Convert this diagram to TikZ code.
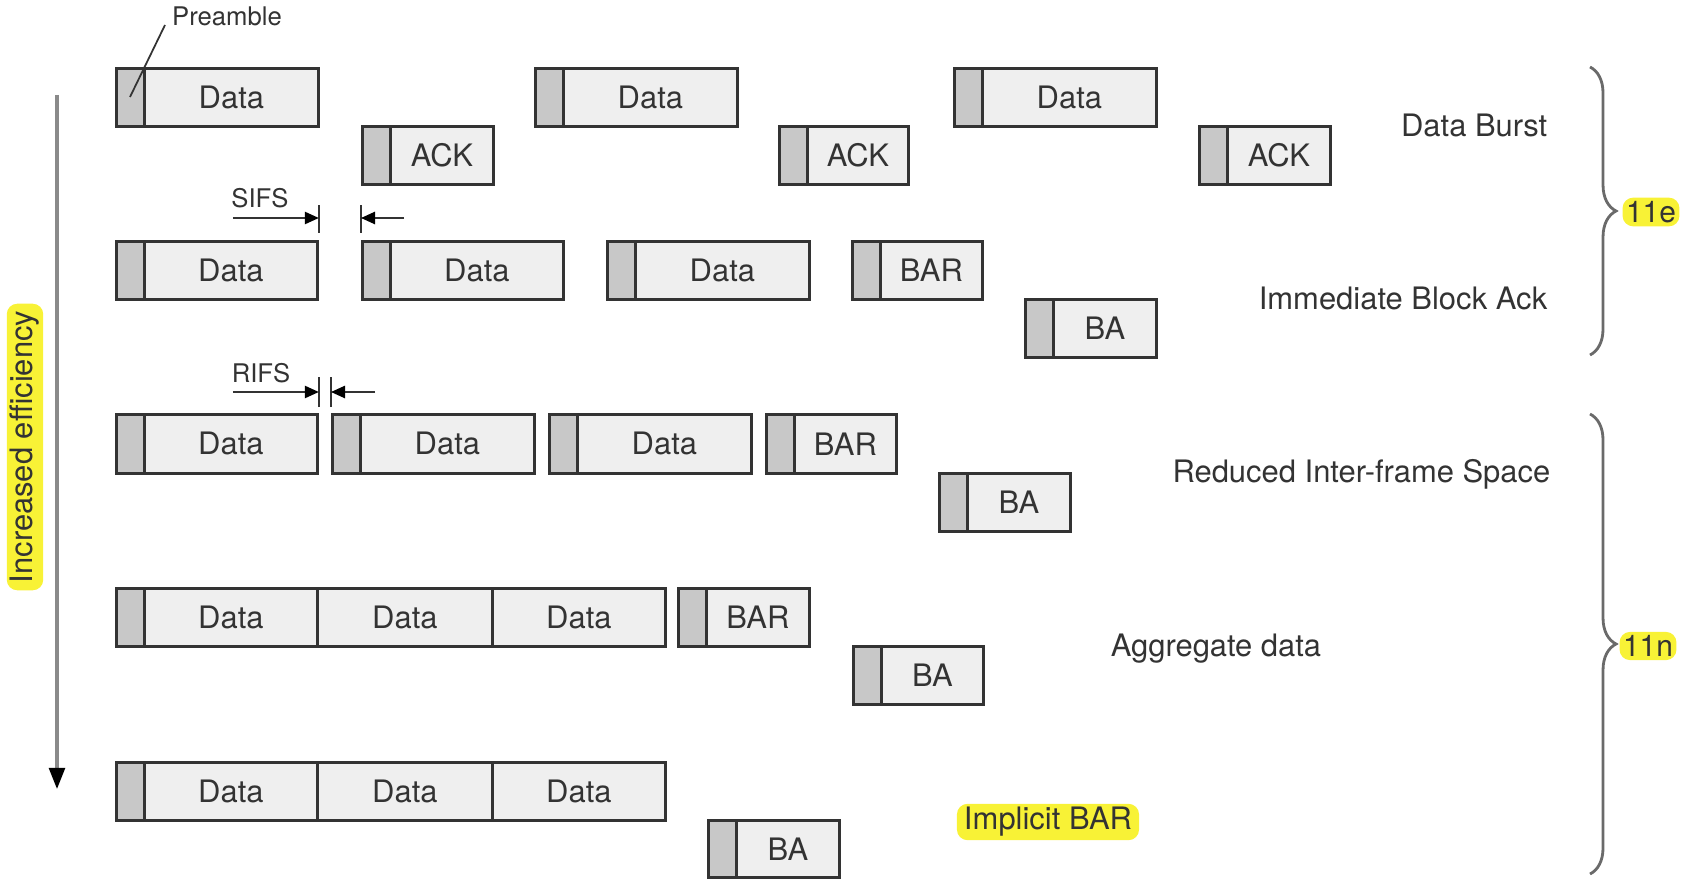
\documentclass[tikz,border=0pt]{standalone}
\usepackage{fontspec}
\setmainfont{TeX Gyre Heros}
\usetikzlibrary{arrows.meta,calc,decorations.pathreplacing}
\definecolor{bodyfill}{HTML}{EFEFEF}
\definecolor{prefill}{HTML}{C8C8C8}
\definecolor{edge}{HTML}{333333}
\definecolor{txt}{HTML}{333333}
\definecolor{hly}{HTML}{F8F236}
\definecolor{brc}{HTML}{6A6A6A}
\definecolor{arrc}{HTML}{8A8A8A}
\tikzset{
  prebox/.style={draw=edge, fill=prefill, line width=0.8pt, inner sep=0pt, minimum width={28*0.01cm}},
  bodybox/.style={draw=edge, fill=bodyfill, line width=0.8pt, inner sep=0pt, text=txt, font=\fontsize{8.8}{10}\selectfont},
  lbl/.style={inner sep=0pt, text=txt, font=\fontsize{8.8}{10}\selectfont},
  small/.style={inner sep=0pt, text=txt, font=\fontsize{7.3}{9}\selectfont},
  hl/.style={fill=hly, rounded corners=3pt, inner xsep=2pt, inner ysep=1pt},
  tag/.style={fill=hly, rounded corners=3pt, inner xsep=1pt, inner ysep=1pt, text=txt, font=\fontsize{8.5}{10}\selectfont},
  tick/.style={draw=edge, line width=0.5pt},
  gaparrow/.style={draw=edge, line width=0.5pt, -{Triangle[length=4pt,width=3.5pt,color=black]}},
  bracestyle/.style={draw=brc, line width=0.8pt, decorate, decoration={brace, amplitude=0.26cm, aspect=0.5}}
}
\newcommand{\pframe}[6]{%
  \node[prebox, minimum height={(#5-#4)*0.01cm}, anchor=north west] (#1p) at (#2,#4) {};
  \node[bodybox, minimum width={(#3-#2-28)*0.01cm}, minimum height={(#5-#4)*0.01cm}, anchor=north west] (#1) at ({#2+28},#4) {#6};}
\newcommand{\dframe}[6]{%
  \node[bodybox, minimum width={(#3-#2)*0.01cm}, minimum height={(#5-#4)*0.01cm}, anchor=north west] (#1) at (#2,#4) {#6};}
\begin{document}
\begin{tikzpicture}[x=0.01cm,y=-0.01cm]
\useasboundingbox (0,0) rectangle (1688,879);
% Row 1: Data burst
\pframe{r1a}{115}{317}{67}{125}{Data}
\pframe{r1b}{361}{492}{125}{183}{ACK}
\pframe{r1c}{534}{736}{67}{125}{Data}
\pframe{r1d}{778}{907}{125}{183}{ACK}
\pframe{r1e}{953}{1155}{67}{125}{Data}
\pframe{r1f}{1198}{1329}{125}{183}{ACK}
% Row 2: Immediate block ack
\pframe{r2a}{115}{316}{240}{298}{Data}
\pframe{r2b}{361}{562}{240}{298}{Data}
\pframe{r2c}{606}{808}{240}{298}{Data}
\pframe{r2d}{851}{981}{240}{298}{BAR}
\pframe{r2e}{1024}{1155}{298}{356}{BA}
% Row 3: RIFS
\pframe{r3a}{115}{316}{413}{472}{Data}
\pframe{r3b}{331}{533}{413}{472}{Data}
\pframe{r3c}{548}{750}{413}{472}{Data}
\pframe{r3d}{765}{895}{413}{472}{BAR}
\pframe{r3e}{938}{1069}{472}{530}{BA}
% Row 4: Aggregate
\pframe{r4a}{115}{316}{587}{645}{Data}
\dframe{r4b}{316}{491}{587}{645}{Data}
\dframe{r4c}{491}{664}{587}{645}{Data}
\pframe{r4d}{677}{808}{587}{645}{BAR}
\pframe{r4e}{852}{982}{645}{703}{BA}
% Row 5: Implicit BAR
\pframe{r5a}{115}{316}{761}{819}{Data}
\dframe{r5b}{316}{491}{761}{819}{Data}
\dframe{r5c}{491}{664}{761}{819}{Data}
\pframe{r5e}{707}{838}{819}{876}{BA}
% Row labels
\node[lbl, anchor=east] (lb1) at (1548,125) {Data Burst};
\node[lbl, anchor=east] (lb2) at (1548,298) {Immediate Block Ack};
\node[lbl, anchor=east] (lb3) at (1551,474) {Reduced Inter-frame Space};
\node[lbl] (lb4) at (1216,649) {Aggregate data};
\node[lbl, hl] (lb5) at (1048,822) {Implicit BAR};
% Preamble label
\node[small] (prelbl) at (227,16) {Preamble};
\coordinate (prestart) at (165,25);
\coordinate (preend) at (130,97);
\draw[edge, line width=0.5pt] (prestart) -- (preend);
% SIFS
\node[small] (sifs) at (260,198) {SIFS};
\draw[tick] ($(r2a.north east)+(0,-7)$) -- ($(r2a.north east)+(0,-35)$);
\draw[tick] ($(r2bp.north west)+(0,-7)$) -- ($(r2bp.north west)+(0,-35)$);
\draw[gaparrow] ($(r2a.north east)+(-86,-22)$) -- ($(r2a.north east)+(0,-22)$);
\draw[gaparrow] ($(r2bp.north west)+(43,-22)$) -- ($(r2bp.north west)+(0,-22)$);
% RIFS
\node[small] (rifs) at (261,373) {RIFS};
\draw[tick] ($(r3a.north east)+(0,-6)$) -- ($(r3a.north east)+(0,-36)$);
\draw[tick] ($(r3bp.north west)+(0,-6)$) -- ($(r3bp.north west)+(0,-36)$);
\draw[gaparrow] ($(r3a.north east)+(-86,-21)$) -- ($(r3a.north east)+(0,-21)$);
\draw[gaparrow] ($(r3bp.north west)+(44,-21)$) -- ($(r3bp.north west)+(0,-21)$);
% Increased efficiency arrow
\coordinate (efftop) at (57,95);
\coordinate (effbot) at (57,789);
\draw[arrc, line width=0.9pt, -{Triangle[length=6pt,width=4.5pt,color=black]}] (efftop) -- (effbot);
\node[lbl, hl, rotate=90] (eff) at (25,447) {Increased efficiency};
% Braces
\coordinate (b1t) at (1590,67);
\coordinate (b1b) at (1590,355);
\draw[bracestyle] (b1t) -- (b1b);
\node[tag] (e11) at (1651,212) {11e};
\coordinate (b2t) at (1590,414);
\coordinate (b2b) at (1590,874);
\draw[bracestyle] (b2t) -- (b2b);
\node[tag] (n11) at (1648,646) {11n};
\end{tikzpicture}
\end{document}
